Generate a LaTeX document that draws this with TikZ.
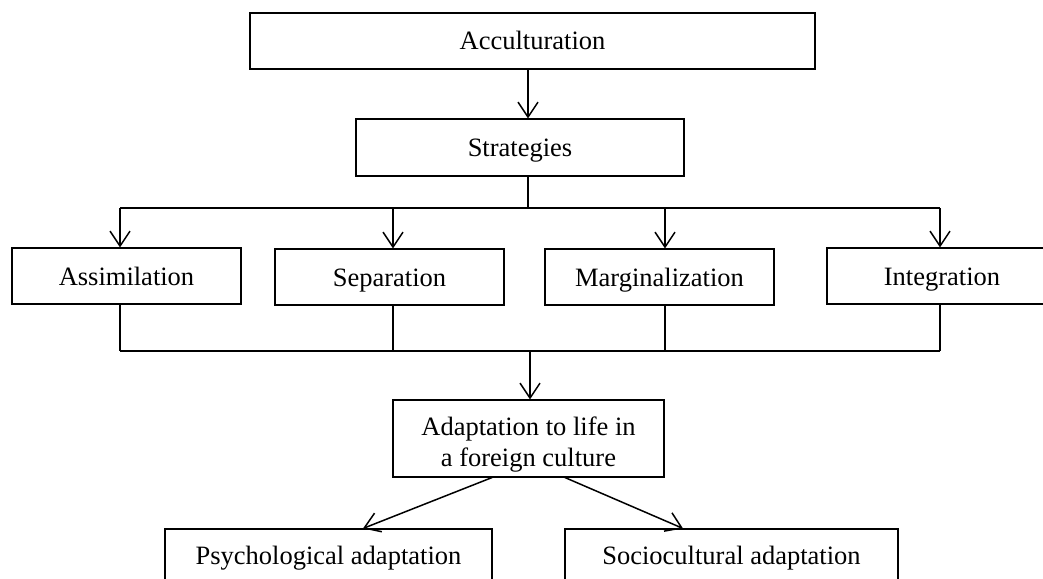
\documentclass[tikz,border=0pt]{standalone}
\usepackage{fontspec}
\setmainfont{Liberation Serif}
\usetikzlibrary{arrows.meta}
\begin{document}
\begin{tikzpicture}[x=1pt,y=-1pt,
  box/.style={draw, line width=1.1pt, inner sep=0pt, font=\fontsize{26.5}{31}\selectfont},
  onel/.style={box, text height=18pt, text depth=0pt},
  conn/.style={line width=1.5pt},
  arr/.style={conn, -{Straight Barb[length=15pt,width=20pt]}}]
\useasboundingbox (0,0) rectangle (1043,578);
\begin{scope}
\clip (0,0) rectangle (1043,578);
\node[onel, minimum width=565, minimum height=56] (acc) at (532.5,41) {Acculturation};
\node[onel, minimum width=328, minimum height=57] (str) at (520,147.5) {Strategies};
\node[onel, minimum width=229, minimum height=56] (ass) at (126.5,276) {Assimilation};
\node[onel, minimum width=229, minimum height=56] (sep) at (389.5,277) {Separation};
\node[onel, minimum width=229, minimum height=56] (mar) at (659.5,277) {Marginalization};
\node[onel, minimum width=230, minimum height=56] (int) at (942,276) {Integration};
\node[box, minimum width=271, minimum height=77, align=center] (ada) at (528.5,438.5) {\rule{0pt}{30pt}Adaptation to life in\\a foreign culture};
\node[onel, minimum width=327, minimum height=52] (psy) at (328.5,555) {Psychological adaptation};
\node[onel, minimum width=333, minimum height=52] (soc) at (731.5,555) {Sociocultural adaptation};

\coordinate (ja) at (528,208);
\coordinate (jb) at (530,351);
\coordinate (b1) at (120,208);
\coordinate (b2) at (393,208);
\coordinate (b3) at (665,208);
\coordinate (b4) at (940,208);
\coordinate (c1) at (120,351);
\coordinate (c2) at (393,351);
\coordinate (c3) at (665,351);
\coordinate (c4) at (940,351);

\draw[arr] (acc.south -| ja) -- (str.north -| ja);
\draw[conn] (str.south -| ja) -- (ja);
\draw[conn] (b1) -- (b4);
\foreach \i/\n in {1/ass,2/sep,3/mar,4/int}{
  \draw[arr] (b\i) -- (b\i |- \n.north);
  \draw[conn] (\n.south -| c\i) -- (c\i);
}
\draw[conn] (c1) -- (c4);
\draw[arr] (jb) -- (jb |- ada.north);
\draw[arr] ([xshift=-36.5pt]ada.south) -- ([xshift=34.5pt]psy.north);
\draw[arr] ([xshift=36.5pt]ada.south) -- ([xshift=-48.5pt]soc.north);
\end{scope}
\end{tikzpicture}
\end{document}
